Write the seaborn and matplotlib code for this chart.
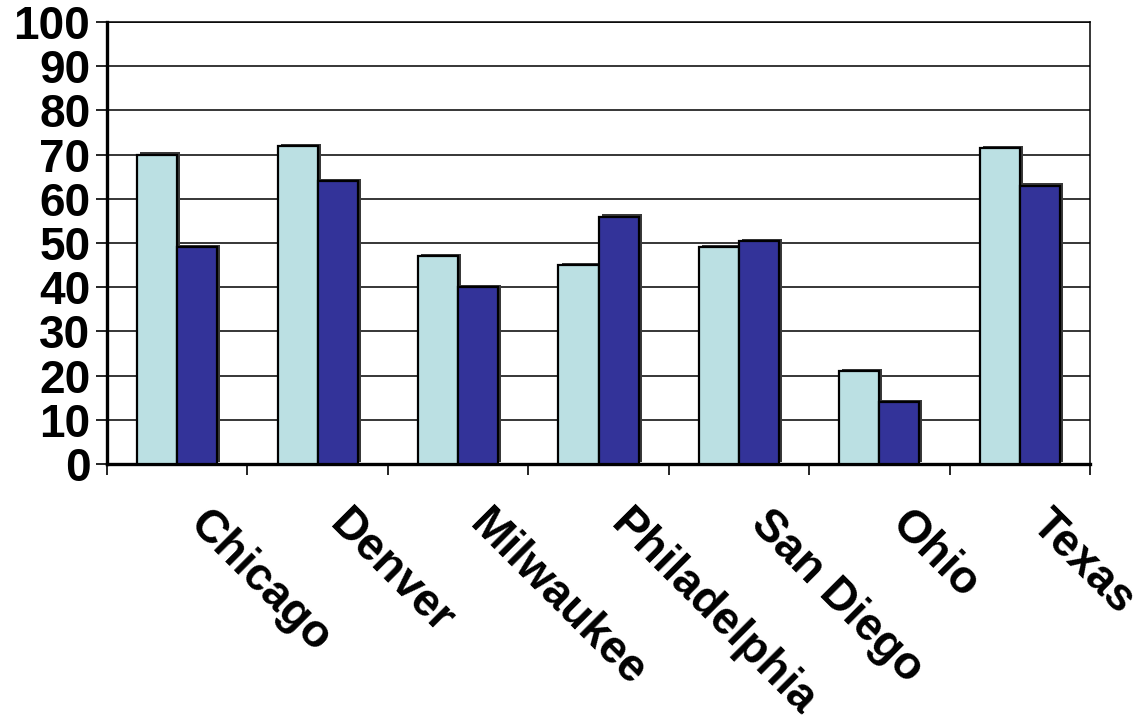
import matplotlib
matplotlib.use("Agg")
import matplotlib.pyplot as plt
import matplotlib.patheffects as pe
import matplotlib.transforms as mtransforms
import seaborn as sns
import pandas as pd
import numpy as np

cities = ["Chicago", "Denver", "Milwaukee", "Philadelphia", "San Diego", "Ohio", "Texas"]
series1 = [70, 72, 47, 45, 49, 21, 71.5]
series2 = [49, 64, 40, 56, 50.5, 14, 63]
series_names = ["Series 1", "Series 2"]
yticks = [0, 10, 20, 30, 40, 50, 60, 70, 80, 90, 100]

df = pd.DataFrame({
    "city": cities * 2,
    "value": series1 + series2,
    "series": [series_names[0]] * len(cities) + [series_names[1]] * len(cities),
})

sns.set_theme(style="white")
plt.rcParams["font.family"] = ["Liberation Sans", "DejaVu Sans"]
plt.rcParams["text.color"] = "black"
plt.rcParams["xtick.color"] = "black"
plt.rcParams["ytick.color"] = "black"

fig = plt.figure(figsize=(11.41, 7.24), dpi=100)
ax = fig.add_axes([0.0938, 0.359, 0.8615, 0.6106])

sns.barplot(data=df, x="city", y="value", hue="series", order=cities,
            hue_order=series_names, palette=["#BBE0E3", "#333399"], saturation=1,
            width=0.57, gap=0, edgecolor="black", linewidth=1.6,
            legend=False, ax=ax, zorder=3)

for p in ax.patches:
    p.set_path_effects([pe.SimplePatchShadow(offset=(2.2, 1.6), shadow_rgbFace="#3a3a3a", alpha=1.0),
                        pe.Normal()])

ax.set_ylim(0, 100)
ax.set_xlim(-0.5, len(cities) - 0.5)
ax.set_yticks(yticks)
ax.set_yticklabels([str(v) for v in yticks], fontsize=33, fontweight="bold", color="black")
ax.yaxis.grid(True, color="black", linewidth=1.1, zorder=0)
ax.set_axisbelow(True)

ax.set_xticks(range(len(cities)))
ax.set_xticks(np.arange(-0.5, len(cities), 1.0), minor=True)
ax.set_xticklabels(cities, fontsize=33, fontweight="bold", rotation=-45, color="black",
                   ha="left", va="top", rotation_mode="anchor")
ax.tick_params(axis="x", which="major", length=0, pad=27)
ax.tick_params(axis="x", which="minor", length=8, width=1.2, color="black", direction="out", bottom=True)
ax.tick_params(axis="y", length=8, width=1.2, color="black", direction="out", left=True, pad=4)
offset = mtransforms.ScaledTranslation(34 / 100, 0, fig.dpi_scale_trans)
for lab in ax.get_xticklabels():
    lab.set_transform(lab.get_transform() + offset)

ax.set_xlabel("")
ax.set_ylabel("")
for side in ["left", "bottom"]:
    ax.spines[side].set_color("black")
    ax.spines[side].set_linewidth(2.4)
for side in ["right", "top"]:
    ax.spines[side].set_color("black")
    ax.spines[side].set_linewidth(1.1)

fig.savefig("out.png", dpi=100, facecolor="white")
